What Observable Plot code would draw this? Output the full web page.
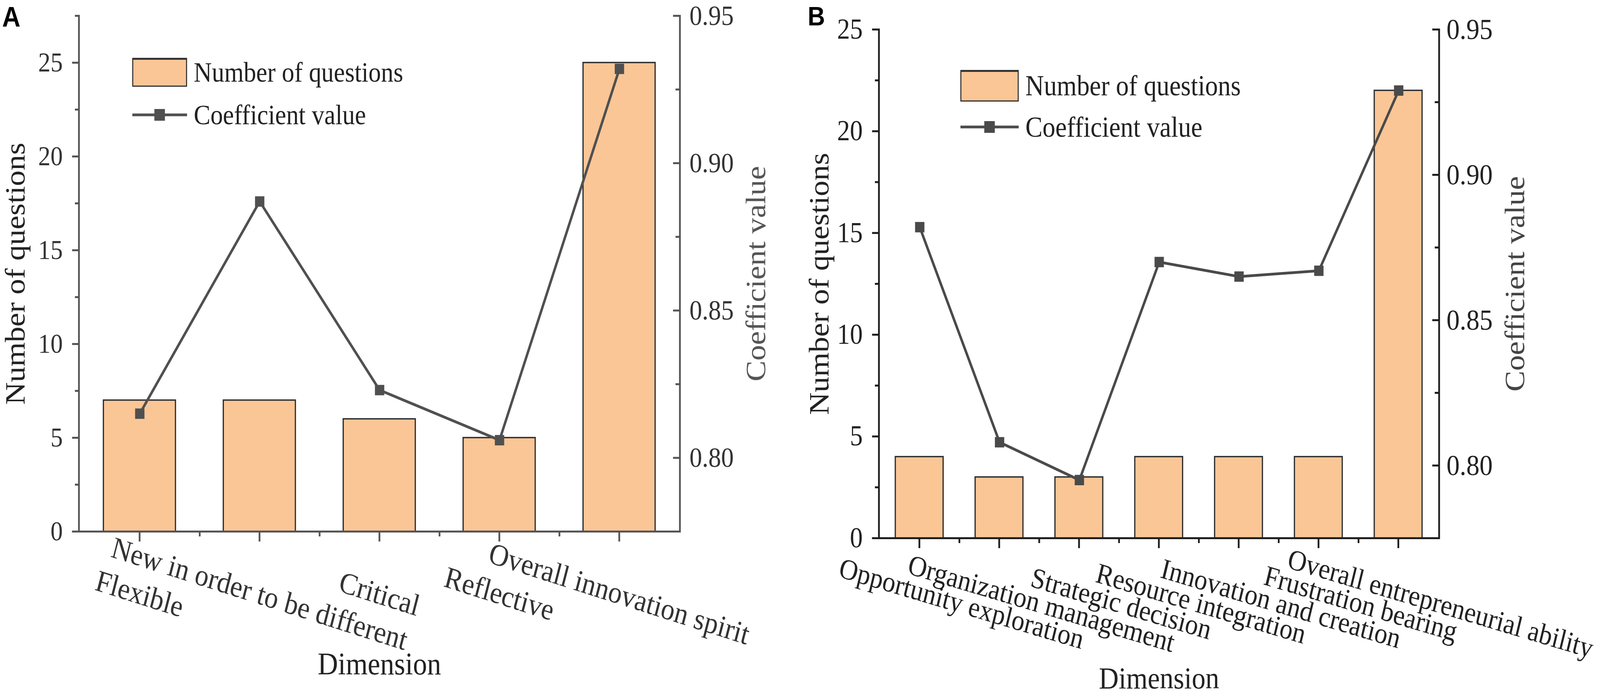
<!DOCTYPE html>
<html>
<head>
<meta charset="utf-8">
<script src="https://cdn.jsdelivr.net/npm/d3@7"></script>
<script src="https://cdn.jsdelivr.net/npm/@observablehq/plot@0.6"></script>
<style>
  html, body { margin: 0; padding: 0; background: #fff; overflow: hidden; }
  #root { position: relative; width: 4550px; height: 1784px; overflow: hidden; background: #fff; transform-origin: 0 0; }
  .panel { position: absolute; top: 0; width: 2275px; height: 1784px; }
  .panel svg { position: absolute; left: 0; top: 0; }
  .letter { position: absolute; font-family: "Liberation Sans", Arial, sans-serif; font-weight: bold; line-height: 1; color: #000; }
  .lg-text { position: absolute; font-family: "Liberation Serif", "Times New Roman", serif; line-height: 1; color: #222; white-space: nowrap; }
  .lg-box { position: absolute; box-sizing: border-box; border: 3px solid #333; border-top-width: 5px; }
</style>
</head>
<body>
<div id="root"></div>
<script>
// ---------------- Data ----------------
const dimsA = ["Flexible", "New in order to be different", "Critical", "Reflective", "Overall innovation spirit"];
const questionsA = [7, 7, 6, 5, 25];
const coefA = [0.815, 0.887, 0.823, 0.806, 0.932];

const dimsB = ["Opportunity exploration", "Organization management", "Strategic decision", "Resource integration", "Innovation and creation", "Frustration bearing", "Overall entrepreneurial ability"];
const questionsB = [4, 3, 3, 4, 4, 4, 22];
const coefB = [0.882, 0.808, 0.795, 0.870, 0.865, 0.867, 0.929];

const leftTicksA = [0, 5, 10, 15, 20, 25];
const leftMinorA = [2.5, 7.5, 12.5, 17.5, 22.5, 27.5];
const leftTicksB = [0, 5, 10, 15, 20, 25];
const leftMinorB = [2.5, 7.5, 12.5, 17.5, 22.5];
const rightTicks = [0.80, 0.85, 0.90, 0.95];
const rightMinor = [0.825, 0.875, 0.925];

const seriesBarName = "Number of questions";
const seriesLineName = "Coefficient value";
const xTitle = "Dimension";

// ---------------- Style ----------------
const SERIF = '"Liberation Serif", "Times New Roman", serif';
const BAR_FILL = "#FAC696";
const BAR_STROKE = "#2e2e2e";
const W = 2275, H = 1784;

function makePanel(p) {
  const rows = p.dims.map((d, i) => ({dim: d, n: p.questions[i], c: p.coef[i]}));
  const step = (W - p.mLeft - p.mRight) / p.dims.length;
  const base = {
    width: W, height: H,
    marginLeft: p.mLeft, marginRight: p.mRight, marginTop: p.mTop, marginBottom: p.mBottom,
    style: {fontFamily: SERIF, background: "transparent", maxWidth: "none", overflow: "visible", color: p.textColor}
  };
  const ax = {stroke: p.axisColor, strokeWidth: 5, label: null};

  const barPlot = Plot.plot({
    ...base,
    x: {type: "band", domain: p.dims, paddingInner: 0.4, paddingOuter: 0.2},
    y: {domain: [0, p.yMax]},
    marks: [
      Plot.barY(rows, {x: "dim", y: "n", fill: BAR_FILL, stroke: BAR_STROKE, strokeWidth: 3.5}),
      Plot.frame({anchor: "left", stroke: p.axisColor, strokeWidth: 5}),
      Plot.ruleY([0], {stroke: p.axisColor, strokeWidth: 5, insetLeft: -19}),
      Plot.axisY(p.leftTicks, {anchor: "left", tickSize: 19, tickPadding: 27, fontSize: p.tickFont, fill: p.textColor, tickFormat: d3.format("d"), ...ax}),
      Plot.axisY(p.leftMinor, {anchor: "left", tickSize: 11, fill: "none", ...ax}),
      Plot.axisX({tickSize: 26, fill: "none", ...ax}),
      Plot.axisX(p.dims.slice(0, -1), {tickSize: 13, fill: "none", dx: step / 2, ...ax}),
      Plot.text(rows, {x: "dim", text: "dim", frameAnchor: "bottom", dx: p.labelDx, dy: p.labelDy, rotate: p.labelRotate,
        textAnchor: "middle", lineAnchor: "middle", fontSize: p.catFont, fill: p.textColor}),
      Plot.text([p.leftTitle], {text: d => d, frameAnchor: "left", dx: p.leftTitleDx, rotate: -90,
        textAnchor: "middle", lineAnchor: "middle", fontSize: 80, fill: "#222"}),
      Plot.text([xTitle], {text: d => d, frameAnchor: "bottom", dy: p.xTitleDy,
        textAnchor: "middle", lineAnchor: "middle", fontSize: p.xTitleFont, fill: "#222"})
    ]
  });

  const linePlot = Plot.plot({
    ...base,
    x: {type: "point", domain: p.dims, padding: 0.5, axis: null},
    y: {domain: p.rightDomain},
    marks: [
      Plot.frame({anchor: "right", stroke: p.axisColor, strokeWidth: 5}),
      Plot.axisY(rightTicks, {anchor: "right", tickSize: -20, tickPadding: 20 + p.rightGap, fontSize: p.rightFont, fill: p.textColor, tickFormat: d3.format(".2f"), ...ax}),
      Plot.axisY(rightMinor, {anchor: "right", tickSize: -13, fill: "none", ...ax}),
      Plot.line(rows, {x: "dim", y: "c", stroke: p.lineColor, strokeWidth: 7}),
      Plot.dot(rows, {x: "dim", y: "c", symbol: "square", r: 15, fill: p.lineColor, stroke: null}),
      Plot.text([p.rightTitle], {text: d => d, frameAnchor: "right", dx: p.rightTitleDx, rotate: -90,
        textAnchor: "middle", lineAnchor: "middle", fontSize: 80, fill: p.rightTitleColor})
    ]
  });

  const div = document.createElement("div");
  div.className = "panel";
  div.style.left = p.left + "px";
  div.appendChild(barPlot);
  div.appendChild(linePlot);

  // panel letter
  const L = document.createElement("div");
  L.className = "letter";
  L.textContent = p.letter;
  L.style.left = p.letterX + "px";
  L.style.top = p.letterY + "px";
  L.style.fontSize = p.letterSize + "px";
  div.appendChild(L);

  // legend (HTML overlay)
  const lg = p.legend;
  const box = document.createElement("div");
  box.className = "lg-box";
  Object.assign(box.style, {left: lg.x + "px", top: lg.boxTop + "px", width: lg.w + "px", height: lg.boxH + "px", background: BAR_FILL});
  div.appendChild(box);
  const t1 = document.createElement("div");
  t1.className = "lg-text";
  t1.textContent = seriesBarName;
  Object.assign(t1.style, {left: lg.textX + "px", top: (lg.boxTop + lg.boxH / 2 - lg.font / 2) + "px", fontSize: lg.font + "px"});
  div.appendChild(t1);
  const ns = "http://www.w3.org/2000/svg";
  const sw = document.createElementNS(ns, "svg");
  sw.setAttribute("width", lg.w);
  sw.setAttribute("height", 40);
  Object.assign(sw.style, {position: "absolute", left: lg.x + "px", top: (lg.lineY - 20) + "px"});
  const ln = document.createElementNS(ns, "line");
  ln.setAttribute("x1", 0); ln.setAttribute("x2", lg.w); ln.setAttribute("y1", 20); ln.setAttribute("y2", 20);
  ln.setAttribute("stroke", p.lineColor); ln.setAttribute("stroke-width", 7);
  sw.appendChild(ln);
  const sq = document.createElementNS(ns, "rect");
  sq.setAttribute("x", lg.w / 2 - 15); sq.setAttribute("y", 5); sq.setAttribute("width", 30); sq.setAttribute("height", 30);
  sq.setAttribute("fill", p.lineColor);
  sw.appendChild(sq);
  div.appendChild(sw);
  const t2 = document.createElement("div");
  t2.className = "lg-text";
  t2.textContent = seriesLineName;
  Object.assign(t2.style, {left: lg.textX + "px", top: (lg.lineY - lg.font / 2) + "px", fontSize: lg.font + "px"});
  div.appendChild(t2);

  return div;
}

const root = document.getElementById("root");

root.appendChild(makePanel({
  left: 0, letter: "A", letterX: 6, letterY: 7, letterSize: 72,
  dims: dimsA, questions: questionsA, coef: coefA,
  yMax: 27.5, rightDomain: [0.775, 0.95],
  leftTicks: leftTicksA, leftMinor: leftMinorA,
  mLeft: 224, mRight: 342, mTop: 40, mBottom: 424,
  axisColor: "#555", textColor: "#333", lineColor: "#505050",
  tickFont: 70, rightFont: 72, rightGap: 27, catFont: 78,
  labelDx: 0, labelDy: 160, labelRotate: 16,
  leftTitle: "Number of questions", leftTitleDx: -180,
  rightTitle: "Coefficient value", rightTitleDx: 217, rightTitleColor: "#555",
  xTitleDy: 340, xTitleFont: 80,
  legend: {x: 376, w: 156, boxTop: 148, boxH: 74, textX: 551, lineY: 294, font: 71}
}));

root.appendChild(makePanel({
  left: 2275, letter: "B", letterX: 22, letterY: 7, letterSize: 68,
  dims: dimsB, questions: questionsB, coef: coefB,
  yMax: 25, rightDomain: [0.775, 0.95],
  leftTicks: leftTicksB, leftMinor: leftMinorB,
  mLeft: 224, mRight: 458, mTop: 75, mBottom: 407,
  axisColor: "#1e1e1e", textColor: "#222", lineColor: "#4a4a4a",
  tickFont: 73, rightFont: 75, rightGap: 21, catFont: 74,
  labelDx: 120, labelDy: 168, labelRotate: 15,
  leftTitle: "Number of questions", leftTitleDx: -169,
  rightTitle: "Coefficient value", rightTitleDx: 216, rightTitleColor: "#444",
  xTitleDy: 360, xTitleFont: 78,
  legend: {x: 456, w: 166, boxTop: 179, boxH: 81, textX: 641, lineY: 325, font: 73}
}));

// The window may be narrower than the 4550x1784 design; map the design onto the viewport.
function fit() {
  const sx = window.innerWidth / 4550, sy = window.innerHeight / 1784;
  root.style.transform = (Math.abs(sx - 1) < 1e-3 && Math.abs(sy - 1) < 1e-3) ? "" : `scale(${sx}, ${sy})`;
}
fit();
window.addEventListener("resize", fit);
</script>
</body>
</html>
